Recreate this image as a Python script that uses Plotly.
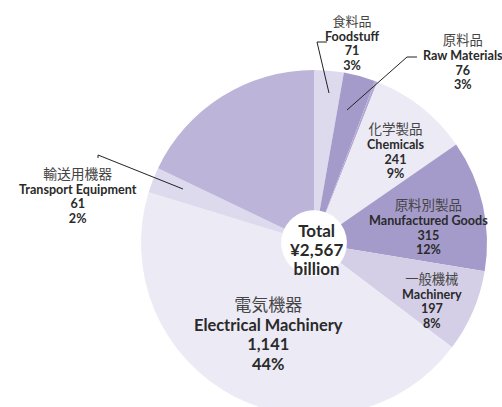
import plotly.graph_objects as go

# ---- data ----
names_ja = ["食料品", "原料品", "", "化学製品", "原料別製品", "一般機械", "電気機器", "輸送用機器", ""]
names_en = ["Foodstuff", "Raw Materials", "", "Chemicals", "Manufactured Goods", "Machinery",
            "Electrical Machinery", "Transport Equipment", ""]
values = [71, 76, 6, 241, 315, 197, 1141, 61, 459]
colors = ["#dedaed", "#a59bcb", "#b3aad3", "#ecEAF5", "#a59bcb", "#d4cfe7", "#ecEAF5", "#dedaed", "#bcb5d9"]

# ---- layout helpers (pixel space) ----
W, H = 502, 486
CX, CY, R = 314, 243, 173
# label anchor: (x center, y of first line, line gap, cjk size, en size)
label_pos = {
    0: (352, 20, 14.5, 13, 12.6),
    1: (463, 39, 14.8, 13.3, 12.6),
    3: (395, 127, 14.8, 13.5, 12.6),
    4: (428, 203, 14.8, 13.5, 12.6),
    5: (432, 278, 14.7, 13.3, 12.6),
    6: (268, 303, 19.5, 17, 16.4),
    7: (78, 173, 14.5, 13.8, 12.6),
}
leaders = [
    [(327, 42), (317, 42), (329, 93)],
    [(417, 57), (407, 57), (347, 110)],
    [(98, 158), (98, 155), (183, 189)],
]

total = sum(values)

fig = go.Figure()
fig.add_trace(go.Pie(
    values=values,
    labels=[f"{j} {e}".strip() or f"other{i}" for i, (j, e) in enumerate(zip(names_ja, names_en))],
    sort=False, direction="clockwise", rotation=0,
    marker=dict(colors=colors, line=dict(width=0)),
    textinfo="none", hoverinfo="skip", hole=0.19, showlegend=False,
    domain=dict(x=[(CX - R) / W, (CX + R) / W], y=[0, 1]),
))

fig.update_xaxes(range=[0, W], visible=False, fixedrange=True)
fig.update_yaxes(range=[H, 0], visible=False, fixedrange=True)

EN_FONT = "Lato"
JA_FONT = "Noto Sans CJK JP"


def span(t, fam, sz, col, bold=False):
    s = f'<span style="font-family:{fam};font-size:{sz}px;fill:{col}">{t}</span>'
    return f"<b>{s}</b>" if bold else s


anns = []
for i, (x, y, gap, sj, se) in label_pos.items():
    pct = round(values[i] / total * 100)
    lines = [
        span(names_ja[i], JA_FONT, sj, "#454545"),
        span(names_en[i], EN_FONT, se, "#2a2a2a", True),
        span(f"{values[i]:,}", EN_FONT, se, "#2a2a2a", True),
        span(f"{pct}%", EN_FONT, se, "#2a2a2a", True),
    ]
    anns.append(dict(x=x, y=y + 1.5 * gap, text="<br>".join(lines), showarrow=False,
                     xref="x", yref="y", xanchor="center", yanchor="middle", align="center",
                     font=dict(family=EN_FONT, size=gap / 1.3, color="#2a2a2a")))

tot_lines = [span(t, EN_FONT, 17, "#2a2a2a", True) for t in ["Total", f"¥{total:,}", "billion"]]
anns.append(dict(x=316, y=249, text="<br>".join(tot_lines), showarrow=False, xref="x", yref="y",
                 xanchor="center", yanchor="middle", align="center",
                 font=dict(family=EN_FONT, size=19 / 1.3, color="#2a2a2a")))

shapes = []
for pts in leaders:
    path = "M " + " L ".join(f"{px},{py}" for px, py in pts)
    shapes.append(dict(type="path", path=path, xref="x", yref="y",
                       line=dict(color="#222222", width=1)))

fig.update_layout(
    width=W, height=H, margin=dict(l=0, r=0, t=0, b=0),
    paper_bgcolor="white", plot_bgcolor="rgba(0,0,0,0)",
    annotations=anns, shapes=shapes,
)

fig.write_html("out.html", config={"displayModeBar": False},
               post_script="document.body.style.margin='0';document.body.style.overflow='hidden';")
